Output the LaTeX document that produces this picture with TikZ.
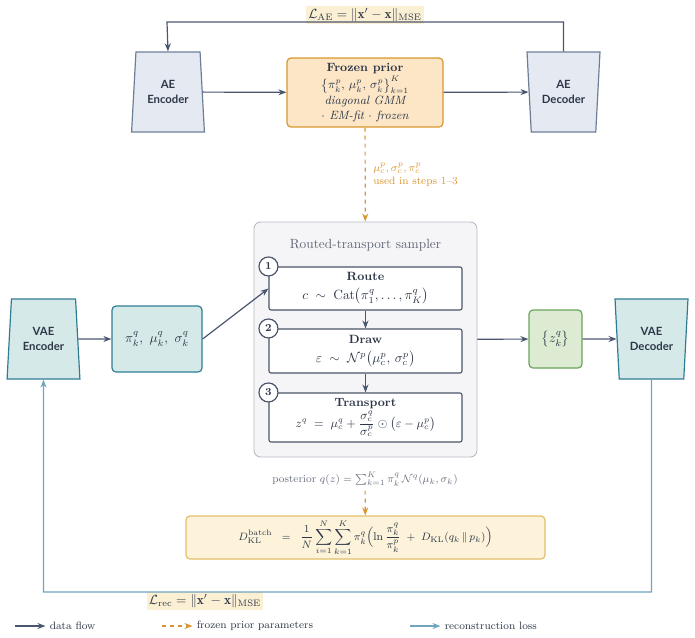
\documentclass[tikz,border=0pt]{standalone}
\usepackage{fontspec}
\usepackage{amsmath,amssymb}
\newfontfamily\labelfont{Lato}
\usetikzlibrary{positioning,calc,arrows.meta,shapes.geometric}
\definecolor{ink}{HTML}{2D3748}
\definecolor{slate}{HTML}{4A5670}
\definecolor{aefill}{HTML}{E5EAF2}
\definecolor{aeline}{HTML}{6E7E96}
\definecolor{priorfill}{HTML}{FCE6C6}
\definecolor{priorline}{HTML}{D9952E}
\definecolor{vaefill}{HTML}{D6E9E9}
\definecolor{vaeline}{HTML}{2F7D95}
\definecolor{zfill}{HTML}{DDEBD3}
\definecolor{zline}{HTML}{6AA35B}
\definecolor{smpfill}{HTML}{F5F5F7}
\definecolor{smpline}{HTML}{B8BCC4}
\definecolor{stepline}{HTML}{4A5568}
\definecolor{recline}{HTML}{6FA5BD}
\definecolor{lossfill}{HTML}{FCF0D4}
\definecolor{klfill}{HTML}{FCF3DA}
\definecolor{klline}{HTML}{E3BE6A}
\definecolor{mute}{HTML}{6B7280}
\newcommand\pxu{0.75pt}

\begin{document}
\begin{tikzpicture}[x=0.75pt,y=-0.75pt,
    ae/.style={trapezium, trapezium angle=83, trapezium stretches=true, draw=aeline, fill=aefill,
      line width=0.9pt, minimum width=73*\pxu, minimum height=80*\pxu, inner sep=0pt,
      align=center, text=ink, font=\labelfont\bfseries\fontsize{8.5}{11}\selectfont},
    vae/.style={ae, draw=vaeline, fill=vaefill},
    box/.style={rectangle, rounded corners=3pt, line width=0.9pt, align=center, text=ink, inner sep=0pt},
    stepbox/.style={box, draw=stepline, fill=white, rounded corners=1.5pt, line width=0.8pt,
      minimum width=193*\pxu},
    stepnum/.style={circle, draw=stepline, fill=white, line width=0.9pt, minimum size=19*\pxu,
      inner sep=0pt, text=ink, font=\footnotesize\bfseries},
    flow/.style={draw=slate, line width=0.9pt, -{Stealth[length=6pt,width=4.5pt]}},
    frz/.style={draw=priorline, line width=0.9pt, dashed, -{Stealth[length=6pt,width=4.5pt]}},
    rec/.style={draw=recline, line width=0.9pt, -{Stealth[length=6pt,width=4.5pt]}},
    loss/.style={fill=lossfill, inner sep=1.5pt, text=ink},
    legend/.style={anchor=west, inner sep=0pt, inner xsep=3pt, text=ink, font=\footnotesize}]
\useasboundingbox (0,0) rectangle (695,637);

\node[ae] (aeenc) at (168,92) {AE\\Encoder};
\node[ae, shape border rotate=180] (aedec) at (563.5,92) {AE\\Decoder};
\node[box, draw=priorline, fill=priorfill, minimum width=156*\pxu, minimum height=69*\pxu,
  font=\fontsize{9}{11}\selectfont] (prior) at (365,92.5)
  {{\bfseries Frozen prior}\\[1pt] $\bigl\{\pi_k^p,\,\mu_k^p,\,\sigma_k^p\bigr\}_{k=1}^{K}$\\[1pt]
   {\itshape diagonal GMM}\\ {\itshape $\cdot$ EM-fit $\cdot$ frozen}};
\node[loss] (lae) at (365,15) {$\mathcal{L}_{\mathrm{AE}} = \|\mathbf{x}'-\mathbf{x}\|_{\mathrm{MSE}}$};

\node[box, draw=smpline, fill=smpfill, rounded corners=5pt, line width=0.7pt,
  minimum width=223*\pxu, minimum height=235*\pxu] (sampler) at (365.5,339.5) {};
\node[text=mute!80!ink] (title) at (365.5,245) {Routed-transport sampler};
\node[stepbox, minimum height=43*\pxu] (route) at (365.5,288.5)
  {{\small\bfseries Route}\\[2pt] $c\;\sim\;\mathrm{Cat}\bigl(\pi_1^q,\ldots,\pi_K^q\bigr)$};
\node[stepbox, minimum height=44*\pxu] (draw) at (365.5,351)
  {{\small\bfseries Draw}\\[2pt] $\varepsilon\;\sim\;\mathcal{N}^p\bigl(\mu_c^p,\,\sigma_c^p\bigr)$};
\node[stepbox, minimum height=49*\pxu] (transport) at (365.5,417.5)
  {{\small\bfseries Transport}\\[1pt] {\small$z^q\;=\;\mu_c^q+\dfrac{\sigma_c^q}{\sigma_c^p}\odot\bigl(\varepsilon-\mu_c^p\bigr)$}};
\node[stepnum] (n1) at (route.north west) {1};
\node[stepnum] (n2) at (draw.north west) {2};
\node[stepnum] (n3) at (transport.north west) {3};

\node[vae] (vaeenc) at (43.5,339) {VAE\\Encoder};
\node[box, draw=vaeline, fill=vaefill, minimum width=90*\pxu, minimum height=66*\pxu] (pibox) at (157,339)
  {$\pi_k^q,\ \mu_k^q,\ \sigma_k^q$};
\node[box, draw=zline, fill=zfill, minimum width=53*\pxu, minimum height=58*\pxu] (zbox) at (555.5,339)
  {$\bigl\{z_k^q\bigr\}$};
\node[vae, shape border rotate=180] (vaedec) at (651.5,339) {VAE\\Decoder};

\node[anchor=west, align=left, text=priorline, inner sep=0pt, font=\footnotesize] (used) at (373,175)
  {$\mu_c^p,\sigma_c^p,\pi_c^p$\\ used in steps 1--3};
\node[text=mute, font=\footnotesize] (post) at (365,479)
  {posterior $q(z)=\sum_{k=1}^{K}\pi_k^q\,\mathcal{N}^q(\mu_k,\sigma_k)$};
\node[box, draw=klline, fill=klfill, minimum width=359*\pxu, minimum height=43*\pxu,
  font=\fontsize{8.5}{10}\selectfont] (kl) at (365.5,537.5)
  {$\displaystyle D_{\mathrm{KL}}^{\mathrm{batch}}\;\;=\;\;\frac{1}{N}\sum_{i=1}^{N}\sum_{k=1}^{K}\pi_k^q
   \Bigl(\ln\frac{\pi_k^q}{\pi_k^p}\;+\;D_{\mathrm{KL}}(q_k\,\|\,p_k)\Bigr)$};
\node[loss] (lrec) at (205,601) {$\mathcal{L}_{\mathrm{rec}} = \|\mathbf{x}'-\mathbf{x}\|_{\mathrm{MSE}}$};

\draw[flow] (aeenc) -- (prior);
\draw[flow] (prior) -- (aedec);
\draw[flow] (aedec.north) |- (167,22) -- (aeenc.north);
\draw[frz] (prior) -- (sampler);
\draw[flow] (pibox.east) -- (route.west);
\draw[flow] (vaeenc) -- (pibox);
\draw[flow] (route) -- (draw);
\draw[flow] (draw) -- (transport);
\draw[flow] (sampler) -- (zbox);
\draw[flow] (zbox) -- (vaedec);
\draw[frz] (post) -- (kl);
\draw[rec] (vaedec.south) |- (43.5,592) -- (vaeenc.south);

\coordinate (lf) at (15,626);
\coordinate (lp) at (162,626);
\coordinate (lr) at (410,626);
\node[legend] (lgflow) at (45.5,626) {data flow};
\node[legend] (lgprior) at (192.5,626) {frozen prior parameters};
\node[legend] (lgrec) at (440.5,626) {reconstruction loss};
\draw[flow] (lf) -- (lgflow);
\draw[frz] (lp) -- (lgprior);
\draw[rec] (lr) -- (lgrec);
\end{tikzpicture}
\end{document}
